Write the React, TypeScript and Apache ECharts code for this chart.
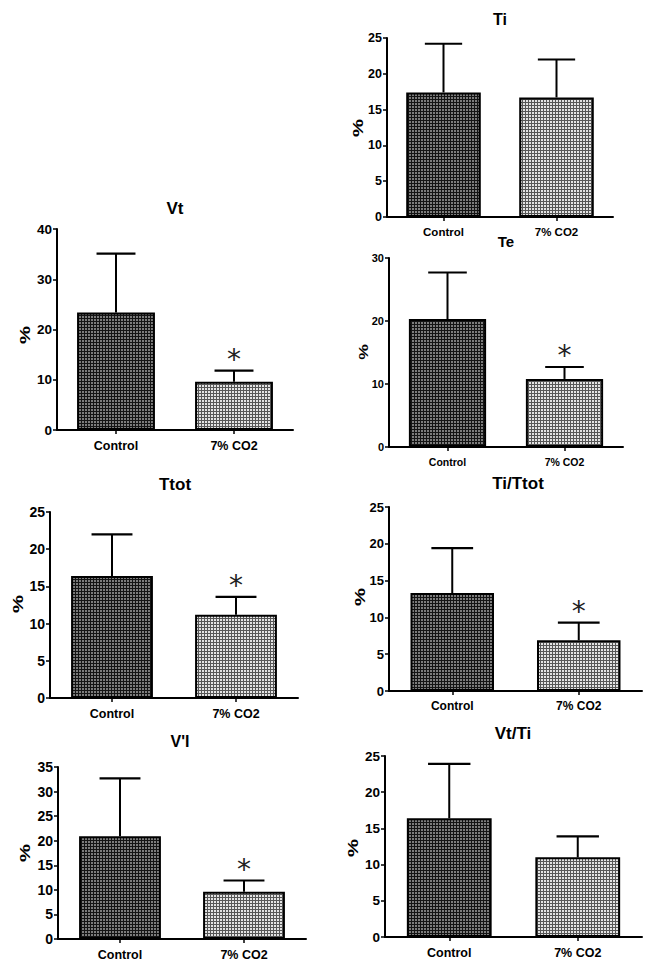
import React, { useEffect, useRef } from 'react';
import * as echarts from 'echarts';

const categories = ['Control', '7% CO2'];
const titles = ['Vt', 'Ti', 'Te', 'Ttot', 'Ti/Ttot', "V'I", 'Vt/Ti'];

const vtMean = [23.4, 9.6];
const vtSd = [11.7, 2.2];
const vtSig = ['', '*'];

const tiMean = [17.4, 16.7];
const tiSd = [6.8, 5.3];
const tiSig = ['', ''];

const teMean = [20.3, 10.8];
const teSd = [7.4, 1.9];
const teSig = ['', '*'];

const ttotMean = [16.4, 11.2];
const ttotSd = [5.6, 2.4];
const ttotSig = ['', '*'];

const tiTtotMean = [13.3, 6.9];
const tiTtotSd = [6.1, 2.4];
const tiTtotSig = ['', '*'];

const viMean = [20.9, 9.6];
const viSd = [11.8, 2.3];
const viSig = ['', '*'];

const vtTiMean = [16.4, 11.0];
const vtTiSd = [7.5, 2.9];
const vtTiSig = ['', ''];

const yMax = [40, 25, 30, 25, 25, 35, 25];
const yStep = [10, 5, 10, 5, 5, 5, 5];

const means = [vtMean, tiMean, teMean, ttotMean, tiTtotMean, viMean, vtTiMean];
const sds = [vtSd, tiSd, teSd, ttotSd, tiTtotSd, viSd, vtTiSd];
const sigs = [vtSig, tiSig, teSig, ttotSig, tiTtotSig, viSig, vtTiSig];

// layout: grid [left, top, width, height], title [x, y, size], pct [x, y, size], tick font, cat font
const layout = [
  { grid: [57, 229, 236, 201], title: [175, 208, 17], pct: [25, 335, 15], tick: 13.5, cat: 12.5 },
  { grid: [387, 38, 226, 179], title: [500, 19, 16], pct: [358, 128, 15], tick: 12.5, cat: 11.5 },
  { grid: [389, 258, 234, 189], title: [506, 241, 15], pct: [363, 352, 13], tick: 11, cat: 10.5 },
  { grid: [50, 512, 248, 186], title: [175, 484, 17], pct: [18, 604, 15], tick: 14, cat: 12.5 },
  { grid: [389, 507, 253, 184], title: [518, 483, 17], pct: [360, 597, 15], tick: 13, cat: 12 },
  { grid: [58, 767, 248, 172], title: [180, 741, 16], pct: [25, 853, 15], tick: 14, cat: 12.5 },
  { grid: [385, 756, 257, 181], title: [513, 733, 17], pct: [353, 848, 15], tick: 13.5, cat: 12.5 },
];

const FONT = 'Liberation Sans, Arial, sans-serif';

function makeTile(cell: string, line: string): HTMLCanvasElement {
  const c = document.createElement('canvas');
  c.width = 3;
  c.height = 3;
  const ctx = c.getContext('2d')!;
  ctx.fillStyle = line;
  ctx.fillRect(0, 0, 3, 3);
  ctx.fillStyle = cell;
  ctx.fillRect(1, 1, 2, 2);
  return c;
}

export default function App() {
  const ref = useRef<HTMLDivElement>(null);

  useEffect(() => {
    if (!ref.current) return;
    const chart = echarts.init(ref.current, undefined, { renderer: 'svg' });
    const darkTile = makeTile('#7c7c7c', '#141414');
    const lightTile = makeTile('#e4e4e4', '#575757');
    const fills = [
      { image: darkTile, repeat: 'repeat', imageWidth: 3, imageHeight: 3 },
      { image: lightTile, repeat: 'repeat', imageWidth: 3, imageHeight: 3 },
    ];

    const grids: any[] = [];
    const xAxes: any[] = [];
    const yAxes: any[] = [];
    const series: any[] = [];
    const graphics: any[] = [];

    layout.forEach((L, i) => {
      grids.push({ left: L.grid[0], top: L.grid[1], width: L.grid[2], height: L.grid[3], containLabel: false });
      xAxes.push({
        gridIndex: i,
        type: 'category',
        data: categories,
        axisLine: { show: true, lineStyle: { color: '#000', width: 2 } },
        axisTick: { show: true, alignWithLabel: true, length: 4, lineStyle: { color: '#000', width: 1.5 } },
        axisLabel: { color: '#000', fontWeight: 'bold', fontSize: L.cat, fontFamily: FONT, margin: 9 },
        splitLine: { show: false },
      });
      yAxes.push({
        gridIndex: i,
        type: 'value',
        min: 0,
        max: yMax[i],
        interval: yStep[i],
        axisLine: { show: true, lineStyle: { color: '#000', width: 2 } },
        axisTick: { show: true, length: 4, lineStyle: { color: '#000', width: 1.5 } },
        axisLabel: { color: '#000', fontWeight: 'bold', fontSize: L.tick, fontFamily: FONT, margin: 5 },
        splitLine: { show: false },
      });
      series.push({
        type: 'bar',
        xAxisIndex: i,
        yAxisIndex: i,
        barWidth: '66%',
        data: means[i].map((v, k) => ({
          value: v,
          itemStyle: { color: fills[k], borderColor: '#000', borderWidth: 2 },
        })),
        z: 2,
      });
      const m = means[i];
      const s = sds[i];
      const sg = sigs[i];
      series.push({
        type: 'custom',
        xAxisIndex: i,
        yAxisIndex: i,
        z: 3,
        data: m.map((v, k) => [k, v, v + s[k]]),
        renderItem: (params: any, api: any) => {
          const x = api.value(0);
          const base = api.coord([x, api.value(1)]);
          const top = api.coord([x, api.value(2)]);
          const band = api.size([1, 0])[0];
          const half = band * 0.165;
          const children: any[] = [
            { type: 'line', shape: { x1: base[0], y1: base[1], x2: top[0], y2: top[1] }, style: { stroke: '#000', lineWidth: 2 } },
            { type: 'line', shape: { x1: top[0] - half, y1: top[1], x2: top[0] + half, y2: top[1] }, style: { stroke: '#000', lineWidth: 2.2 } },
          ];
          const t = sg[params.dataIndex];
          if (t) {
            children.push({
              type: 'text',
              x: top[0],
              y: top[1] - 11,
              style: { text: t, align: 'center', verticalAlign: 'middle', fontSize: 28, fontFamily: 'DejaVu Sans', fontWeight: 'normal', fill: '#222' },
            });
          }
          return { type: 'group', children };
        },
      });
      graphics.push({
        type: 'text',
        x: L.title[0],
        y: L.title[1],
        style: { text: titles[i], align: 'center', verticalAlign: 'middle', fontSize: L.title[2], fontWeight: 'bold', fontFamily: FONT, fill: '#000' },
      });
      graphics.push({
        type: 'text',
        x: L.pct[0],
        y: L.pct[1],
        rotation: Math.PI / 2,
        scaleX: 1.35,
        style: { text: '%', align: 'center', verticalAlign: 'middle', fontSize: L.pct[2], fontWeight: 'bold', fontFamily: FONT, fill: '#000' },
      });
    });

    chart.setOption({
      animation: false,
      backgroundColor: '#fff',
      grid: grids,
      xAxis: xAxes,
      yAxis: yAxes,
      series,
      graphic: graphics,
    });
    return () => chart.dispose();
  }, []);

  return <div ref={ref} style={{ position: 'absolute', left: 0, top: 0, width: 651, height: 967 }} />;
}
